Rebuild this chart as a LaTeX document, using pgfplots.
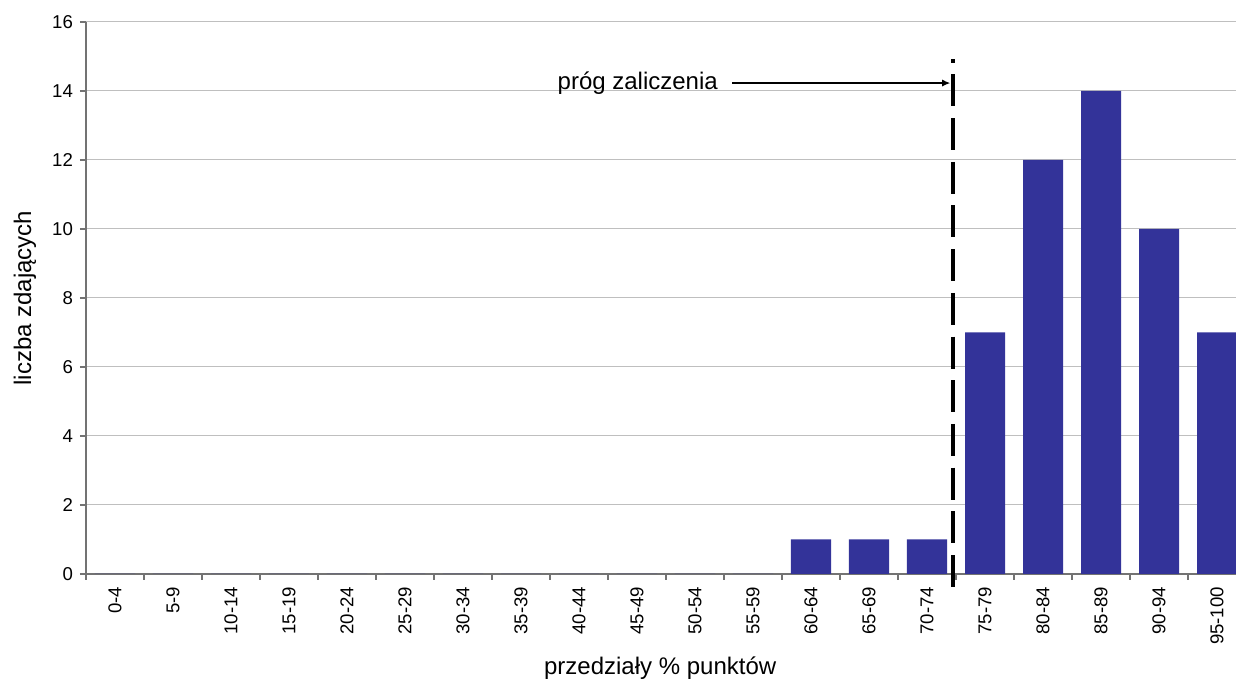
\documentclass[border=0pt]{standalone}
\usepackage{pgfplots}
\pgfplotsset{compat=1.18}
\usepackage{fontspec}
\setmainfont{Liberation Sans}
\usetikzlibrary{arrows.meta}
\definecolor{barblue}{HTML}{333399}

\begin{document}
\begin{tikzpicture}
\begin{axis}[
  scale only axis,
  width=580pt, height=276pt,
  xmin=-0.5, xmax=19.5,
  ymin=0, ymax=16,
  clip=false,
  axis x line*=bottom, axis y line*=left,
  axis line style={black!55, line width=0.6pt},
  tick style={black!55, line width=0.6pt},
  tick align=outside,
  major tick length=3pt,
  /pgf/number format/assume math mode=true,
  xtick={-0.5,0.5,1.5,2.5,3.5,4.5,5.5,6.5,7.5,8.5,9.5,10.5,11.5,12.5,13.5,14.5,15.5,16.5,17.5,18.5,19.5},
  x tick label as interval,
  xticklabels={0-4,5-9,10-14,15-19,20-24,25-29,30-34,35-39,40-44,45-49,50-54,55-59,60-64,65-69,70-74,75-79,80-84,85-89,90-94,95-100},
  xticklabel style={rotate=90, anchor=east, font=\fontsize{9.3}{11}\selectfont},
  ytick={0,2,...,16},
  yticklabel style={font=\fontsize{9.3}{11}\selectfont},
  ymajorgrids,
  grid style={black!25, line width=0.5pt},
  ylabel={liczba zdających},
  ylabel style={at={(axis description cs:-0.0526,0.5)}, anchor=center, font=\fontsize{12}{14}\selectfont},
  xlabel={przedziały \% punktów},
  xlabel style={at={(axis description cs:0.495,-0.170)}, anchor=center, font=\fontsize{12}{14}\selectfont},
]
\addplot[ybar, bar width=0.69, fill=barblue, draw=none] coordinates {
  (0,0) (1,0) (2,0) (3,0) (4,0) (5,0) (6,0) (7,0) (8,0) (9,0)
  (10,0) (11,0) (12,1) (13,1) (14,1) (15,7) (16,12) (17,14) (18,10) (19,7)
};
% próg zaliczenia
\draw[line width=2pt, dash pattern=on 16pt off 5.85pt, dash phase=14.3pt]
  (axis cs:14.448,14.919) -- (axis cs:14.448,-0.609);
\draw[line width=0.6pt, -{Latex[length=4pt,width=3.5pt]}]
  (axis cs:10.64,14.23) -- (axis cs:14.40,14.23);
\node[anchor=east, inner sep=0pt, font=\fontsize{12}{14}\selectfont]
  at (axis cs:10.40,14.23) {próg zaliczenia};
\end{axis}
\pgfresetboundingbox
\path[use as bounding box] (-43pt,-52.5pt) rectangle (575pt,287pt);
\end{tikzpicture}
\end{document}
